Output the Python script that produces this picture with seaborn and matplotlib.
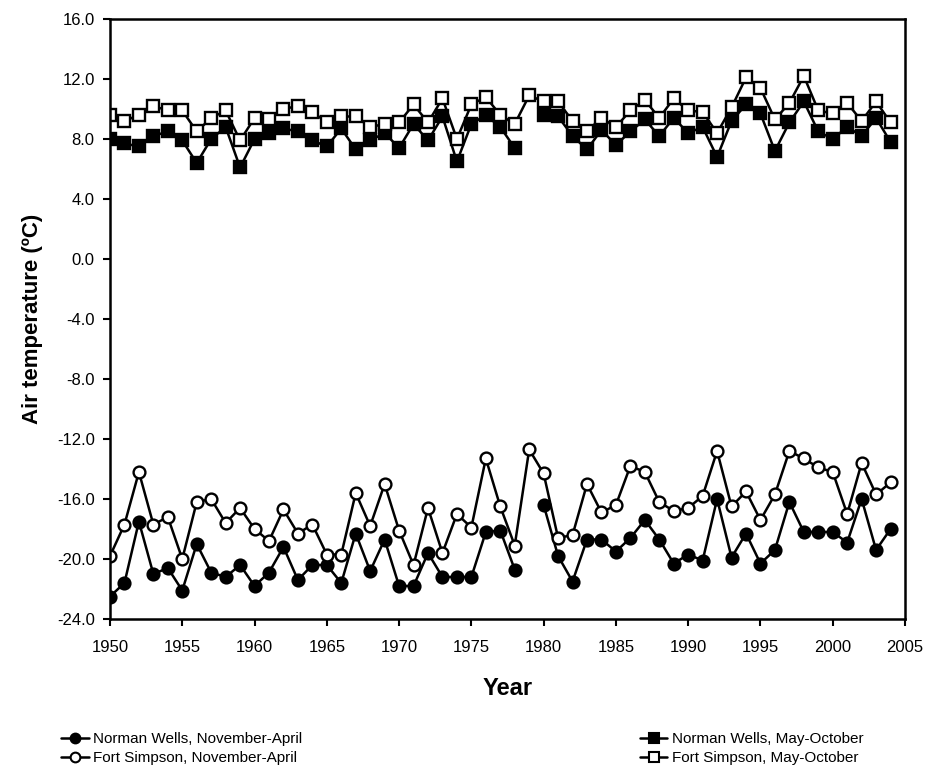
import numpy as np
import pandas as pd
import matplotlib
matplotlib.use("Agg")
import matplotlib.pyplot as plt
from matplotlib.lines import Line2D
import seaborn as sns

years = list(range(1950, 2005))

# Norman Wells, November-April
nw_winter = [-22.5, -21.6, -17.5, -21.0, -20.6, -22.1, -19.0, -20.9, -21.2, -20.4,
             -21.8, -20.9, -19.2, -21.4, -20.4, -20.4, -21.6, -18.3, -20.8, -18.7,
             -21.8, -21.8, -19.6, -21.2, -21.2, -21.2, -18.2, -18.1, -20.7, np.nan,
             -16.4, -19.8, -21.5, -18.7, -18.7, -19.5, -18.6, -17.4, -18.7, -20.3,
             -19.7, -20.1, -16.0, -19.9, -18.3, -20.3, -19.4, -16.2, -18.2, -18.2,
             -18.2, -18.9, -16.0, -19.4, -18.0]

# Fort Simpson, November-April
fs_winter = [-19.8, -17.7, -14.2, -17.7, -17.2, -20.0, -16.2, -16.0, -17.6, -16.6,
             -18.0, -18.8, -16.7, -18.3, -17.7, -19.7, -19.7, -15.6, -17.8, -15.0,
             -18.1, -20.4, -16.6, -19.6, -17.0, -17.9, -13.3, -16.5, -19.1, -12.7,
             -14.3, -18.6, -18.4, -15.0, -16.9, -16.4, -13.8, -14.2, -16.2, -16.8,
             -16.6, -15.8, -12.8, -16.5, -15.5, -17.4, -15.7, -12.8, -13.3, -13.9,
             -14.2, -17.0, -13.6, -15.7, -14.9]

# Norman Wells, May-October
nw_summer = [8.0, 7.7, 7.5, 8.2, 8.5, 7.9, 6.4, 8.0, 8.8, 6.1,
             8.0, 8.4, 8.7, 8.5, 7.9, 7.5, 8.7, 7.3, 7.9, 8.4,
             7.4, 9.0, 7.9, 9.5, 6.5, 9.0, 9.6, 8.8, 7.4, np.nan,
             9.6, 9.5, 8.2, 7.3, 8.6, 7.6, 8.5, 9.3, 8.2, 9.4,
             8.4, 8.8, 6.8, 9.2, 10.3, 9.7, 7.2, 9.1, 10.5, 8.5,
             8.0, 8.8, 8.2, 9.4, 7.8]

# Fort Simpson, May-October
fs_summer = [9.6, 9.2, 9.6, 10.2, 9.9, 9.9, 8.5, 9.4, 9.9, 7.9,
             9.4, 9.3, 10.0, 10.2, 9.8, 9.1, 9.5, 9.5, 8.8, 9.0,
             9.1, 10.3, 9.1, 10.7, 8.0, 10.3, 10.8, 9.6, 9.0, 10.9,
             10.5, 10.5, 9.2, 8.5, 9.4, 8.8, 9.9, 10.6, 9.4, 10.7,
             9.9, 9.8, 8.4, 10.1, 12.1, 11.4, 9.3, 10.4, 12.2, 9.9,
             9.7, 10.4, 9.2, 10.5, 9.1]

series = [
    ("Norman Wells, November-April", nw_winter, "o", "black"),
    ("Fort Simpson, November-April", fs_winter, "o", "white"),
    ("Norman Wells, May-October", nw_summer, "s", "black"),
    ("Fort Simpson, May-October", fs_summer, "s", "white"),
]

sns.set_style("ticks")
plt.rcParams["font.family"] = ["Liberation Sans", "DejaVu Sans"]
plt.rcParams.update({"text.color": "black", "axes.labelcolor": "black",
                     "xtick.color": "black", "ytick.color": "black"})

fig = plt.figure(figsize=(9.32, 7.65), dpi=100)
ax = fig.add_axes([110 / 932, 1 - 619 / 765, 795 / 932, 600 / 765])

handles = []
for name, vals, mk, fc in series:
    d = pd.DataFrame({"year": years, "temp": vals})
    # segment id so that missing years leave a gap in the line
    d["seg"] = d["temp"].isna().cumsum()
    d = d.dropna()
    sns.lineplot(data=d, x="year", y="temp", units="seg", estimator=None,
                 color="black", lw=1.8, marker=mk, markersize=8.5 if mk == "o" else 8,
                 markerfacecolor=fc, markeredgecolor="black", markeredgewidth=1.7,
                 ax=ax, legend=False)
    handles.append(Line2D([], [], color="black", lw=1.8, marker=mk, markersize=7,
                          markerfacecolor=fc, markeredgecolor="black",
                          markeredgewidth=1.5, label=name))

ax.set_xlim(1950, 2005)
ax.set_ylim(-24, 16)
ax.set_xticks(range(1950, 2006, 5))
ax.set_yticks(np.arange(-24, 17, 4))
ax.yaxis.set_major_formatter(matplotlib.ticker.FormatStrFormatter("%.1f"))

for s in ax.spines.values():
    s.set_visible(True)
    s.set_linewidth(1.8)
    s.set_color("black")
ax.tick_params(axis="both", labelsize=12, width=1.5, length=5, color="black", pad=6)
ax.tick_params(axis="x", pad=10)

ax.set_xlabel("Year", fontsize=17, fontweight="bold", labelpad=16)
ax.set_ylabel("Air temperature (ºC)", fontsize=16, fontweight="bold", labelpad=10)

fig.legend(handles=handles, ncol=2, loc="upper left", bbox_to_anchor=(0.054, 0.057),
           frameon=False, fontsize=11, handlelength=1.8, handletextpad=0.3,
           columnspacing=22.1, labelspacing=0.35, borderaxespad=0.3)

fig.savefig("out.png", dpi=100)
